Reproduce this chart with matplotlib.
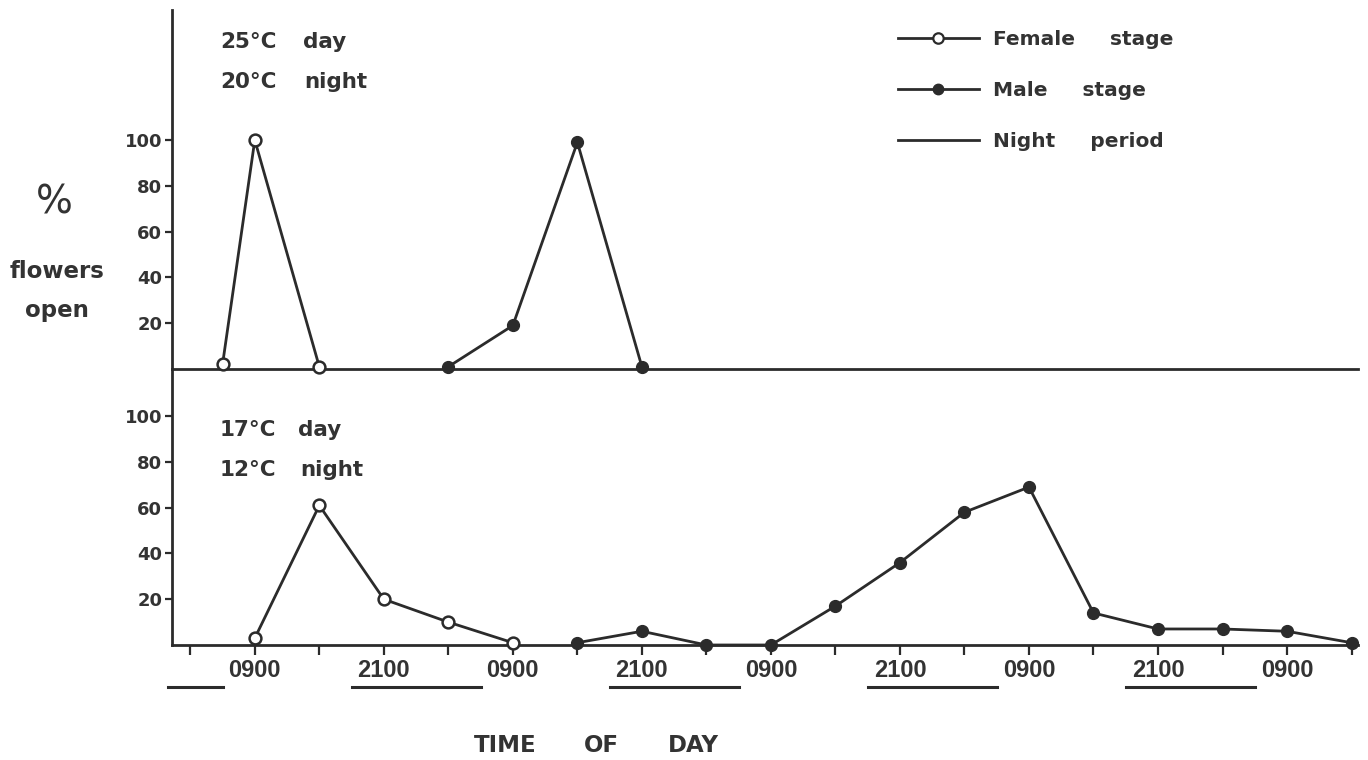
import matplotlib
matplotlib.use("Agg")
import matplotlib.pyplot as plt
from matplotlib.lines import Line2D
import matplotlib.transforms as mtransforms

# ---------------- data ----------------
hours_female_top = [6, 9, 15]
female_top = [2, 100, 1]
hours_male_top = [27, 33, 39, 45]
male_top = [1, 19, 99, 1]

hours_female_bot = [9, 15, 21, 27, 33]
female_bot = [3, 61, 20, 10, 1]
hours_male_bot = [39, 45, 51, 57, 63, 69, 75, 81, 87, 93, 99, 105, 111]
male_bot = [1, 6, 0, 0, 17, 36, 58, 69, 14, 7, 7, 6, 1]

major_hours = [9, 21, 33, 45, 57, 69, 81, 93, 105]
major_labels = ["0900", "2100", "0900", "2100", "0900", "2100", "0900", "2100", "0900"]
minor_hours = [3, 15, 27, 39, 51, 63, 75, 87, 99, 111]

night_start = [-6, 18, 42, 66, 90]
night_end = [6, 30, 54, 78, 102]

y_ticks = [20, 40, 60, 80, 100]
legend_labels = ["Female     stage", "Male     stage", "Night     period"]

# ---------------- style ----------------
INK = "#2b2b2b"
TXT = "#333333"
SANS = ["DejaVu Sans"]
TICKX = ["Liberation Sans", "DejaVu Sans"]

W, H = 1368, 760
fig = plt.figure(figsize=(W / 100, H / 100), dpi=100)
fig.patch.set_facecolor("white")

left = 172 / W
right = 1358 / W
ax_top = fig.add_axes([left, 1 - 369 / H, right - left, (369 - 10) / H])
ax_bot = fig.add_axes([left, 1 - 645 / H, right - left, (645 - 369) / H])

xlim = (1.3, 111.6)
ax_top.set_xlim(*xlim)
ax_bot.set_xlim(*xlim)
ax_top.set_ylim(0, 156.8)
ax_bot.set_ylim(0, 120.6)

for ax in (ax_top, ax_bot):
    ax.set_facecolor("none")
    for s in ("top", "right"):
        ax.spines[s].set_visible(False)
    for s in ("left", "bottom"):
        ax.spines[s].set_color(INK)
        ax.spines[s].set_linewidth(2.0)
    ax.set_yticks(y_ticks)
    ax.set_yticklabels([str(v) for v in y_ticks], family=SANS,
                       fontweight="bold", fontsize=13, color=TXT)
    ax.tick_params(axis="y", direction="out", length=5, width=1.6,
                   color=INK, pad=2)

ax_top.set_xticks([])
ax_top.tick_params(axis="x", length=0)

ax_bot.set_xticks(major_hours)
ax_bot.set_xticklabels(major_labels, family=TICKX, fontweight="bold",
                       fontsize=17, color=TXT)
ax_bot.set_xticks(minor_hours, minor=True)
ax_bot.tick_params(axis="x", which="both", direction="out", length=7,
                   width=1.6, color=INK, pad=3)

line_kw = dict(color=INK, lw=2.0, clip_on=False, zorder=3)
open_kw = dict(marker="o", markersize=8.5, markerfacecolor="white",
               markeredgecolor=INK, markeredgewidth=1.8)
fill_kw = dict(marker="o", markersize=8.5, markerfacecolor=INK,
               markeredgecolor=INK, markeredgewidth=1.0)

ax_top.plot(hours_female_top, female_top, **line_kw, **open_kw)
ax_top.plot(hours_male_top, male_top, **line_kw, **fill_kw)
ax_bot.plot(hours_female_bot, female_bot, **line_kw, **open_kw)
ax_bot.plot(hours_male_bot, male_bot, **line_kw, **fill_kw)

# night period bars below the time axis
trans = mtransforms.blended_transform_factory(ax_bot.transData, ax_bot.transAxes)
for s, e in zip(night_start, night_end):
    s = max(s, xlim[0] - 0.4)
    e = min(e, xlim[1])
    ax_bot.add_line(Line2D([s, e], [-0.152, -0.152], transform=trans,
                           color=INK, lw=2.2, clip_on=False))

# temperature annotations
tkw = dict(family=SANS, fontweight="bold", fontsize=15.5, color=TXT,
           va="center", ha="left")
fig.text(220 / W, 1 - 42 / H, "25°C", **tkw)
fig.text(303 / W, 1 - 42 / H, "day", **tkw)
fig.text(220 / W, 1 - 82 / H, "20°C", **tkw)
fig.text(304 / W, 1 - 82 / H, "night", **tkw)
fig.text(220 / W, 1 - 430 / H, "17°C", **tkw)
fig.text(298 / W, 1 - 430 / H, "day", **tkw)
fig.text(220 / W, 1 - 470 / H, "12°C", **tkw)
fig.text(300 / W, 1 - 470 / H, "night", **tkw)

# y label
fig.text(54 / W, 1 - 202 / H, "%", family=SANS, fontsize=28, color=TXT,
         ha="center", va="center")
fig.text(57 / W, 1 - 271 / H, "flowers", family=SANS, fontweight="bold",
         fontsize=16.5, color=TXT, ha="center", va="center")
fig.text(57 / W, 1 - 310 / H, "open", family=SANS, fontweight="bold",
         fontsize=16.5, color=TXT, ha="center", va="center")

# x label
xkw = dict(family=SANS, fontweight="bold", fontsize=16.5, color=TXT,
           ha="center", va="center")
fig.text(505 / W, 1 - 745 / H, "TIME", **xkw)
fig.text(601 / W, 1 - 745 / H, "OF", **xkw)
fig.text(693 / W, 1 - 745 / H, "DAY", **xkw)

# legend
handles = [
    Line2D([], [], color=INK, lw=2.0, marker="o", markersize=7.5,
           markerfacecolor="white", markeredgecolor=INK, markeredgewidth=1.6),
    Line2D([], [], color=INK, lw=2.0, marker="o", markersize=7.5,
           markerfacecolor=INK, markeredgecolor=INK),
    Line2D([], [], color=INK, lw=2.0),
]
leg = fig.legend(handles, legend_labels, loc="upper left",
                 bbox_to_anchor=(898 / W, 1 - 30 / H), frameon=False,
                 borderpad=0, borderaxespad=0, handlelength=4.0,
                 handletextpad=0.7, labelspacing=1.6, numpoints=1,
                 prop=dict(family=SANS, weight="bold", size=14.5))
for t in leg.get_texts():
    t.set_color(TXT)

fig.savefig("out.png", dpi=100, facecolor="white")
